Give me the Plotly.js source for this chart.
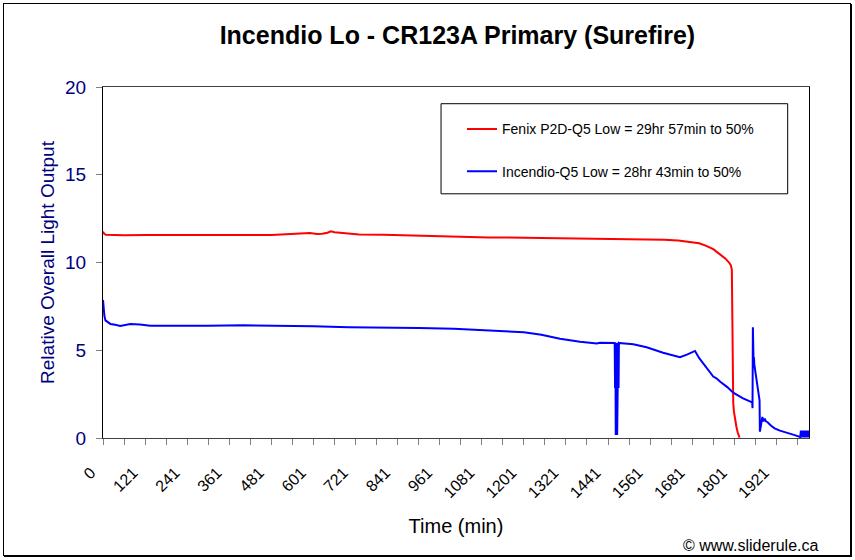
<!DOCTYPE html>
<html>
<head>
<meta charset="utf-8">
<script src="https://cdn.plot.ly/plotly-3.0.1.min.js"></script>
<style>
  body { margin: 0; background: #fff; }
  #wrap { position: relative; width: 855px; height: 560px; }
  #chart { width: 855px; height: 560px; }
  #frame {
    position: absolute; left: 3px; top: 3px; width: 846px; height: 551px;
    border: 1px solid #000; box-shadow: 1px 1px 0 #000; pointer-events: none;
  }
</style>
</head>
<body>
<div id="wrap">
  <div id="chart"></div>
  <div id="frame"></div>
</div>
<script>
// Fenix P2D-Q5 (red), time in minutes
const fenixTime = [0, 3, 8, 20, 60, 120, 200, 300, 400, 480, 520, 545, 570, 590, 610, 625, 640, 650, 660, 675,
  690, 705, 730, 800, 900, 1000, 1100, 1200, 1300, 1400, 1500, 1560, 1600, 1640, 1670, 1700, 1720, 1740,
  1760, 1775, 1785, 1790, 1793, 1794, 1795, 1796, 1797, 1799, 1802, 1806, 1810, 1815];
const fenixOutput = [11.76, 11.65, 11.58, 11.57, 11.55, 11.56, 11.55, 11.56, 11.56, 11.57, 11.6, 11.66, 11.64,
  11.68, 11.63, 11.64, 11.7, 11.78, 11.72, 11.7, 11.64, 11.62, 11.6, 11.58, 11.52, 11.47, 11.43, 11.41, 11.39,
  11.38, 11.36, 11.33, 11.3, 11.25, 11.18, 11.1, 10.95, 10.76, 10.45, 10.22, 10.0, 9.85, 9.6, 7.5, 5.0, 3.0,
  2.0, 1.5, 1.05, 0.64, 0.3, 0.02];

// Incendio-Q5 (blue)
const incendioTime = [0, 2, 4, 7, 11, 21, 35, 49, 78, 105, 135, 200, 300, 400, 500, 600, 700, 800, 900, 1000,
  1100, 1200, 1250, 1303, 1360, 1397, 1408, 1417, 1440, 1459,
  1460, 1461, 1462, 1463, 1464, 1465, 1466, 1467, 1468, 1469, 1470, 1471, 1472,
  1512, 1550, 1597, 1645, 1665, 1688, 1700, 1720, 1740, 1749, 1760, 1780, 1797, 1825, 1851, 1852, 1853,
  1855, 1856, 1857, 1870, 1872, 1873, 1876, 1880, 1883, 1887, 1890, 1895, 1905, 1915, 1930, 1950, 1970,
  1985, 1988, 1990, 1991, 1993, 1994, 1996, 1997, 1999, 2000, 2002, 2003, 2005, 2006, 2008, 2009, 2011, 2012];
const incendioOutput = [7.87, 7.3, 6.95, 6.7, 6.63, 6.5, 6.45, 6.39, 6.5, 6.47, 6.39, 6.38, 6.4, 6.42, 6.41,
  6.37, 6.31, 6.3, 6.27, 6.22, 6.14, 6.03, 5.88, 5.66, 5.49, 5.4, 5.39, 5.43, 5.43, 5.42,
  2.85, 5.42, 0.17, 5.42, 0.17, 5.42, 0.17, 5.42, 0.17, 5.42, 2.85, 5.42, 5.41,
  5.34, 5.17, 4.86, 4.6, 4.75, 4.96, 4.55, 4.0, 3.5, 3.4, 3.2, 2.9, 2.58, 2.26, 2.03, 1.7, 6.31,
  4.3, 4.6, 4.2, 2.2, 2.15, 0.36, 0.85, 1.2, 0.95, 1.1, 0.95, 0.9, 0.7, 0.55, 0.42, 0.28, 0.18,
  0.08, 0.05, 0.42, 0.03, 0.42, 0.03, 0.42, 0.03, 0.42, 0.03, 0.42, 0.03, 0.42, 0.03, 0.42, 0.03, 0.42, 0.03];

const seriesNames = ['Fenix P2D-Q5 Low = 29hr 57min to 50%', 'Incendio-Q5 Low = 28hr 43min to 50%'];

// x axis: a tick every 60 min, a label on every other one
const xTickVals = [0, 60, 120, 180, 240, 300, 360, 420, 480, 540, 600, 660, 720, 780, 840, 900, 960, 1020,
  1080, 1140, 1200, 1260, 1320, 1380, 1440, 1500, 1560, 1620, 1680, 1740, 1800, 1860, 1920, 1980];
const xTickText = ['0', '', '121', '', '241', '', '361', '', '481', '', '601', '', '721', '', '841', '',
  '961', '', '1081', '', '1201', '', '1321', '', '1441', '', '1561', '', '1681', '', '1801', '', '1921', ''];

const FONT = 'Liberation Sans, Arial, sans-serif';

const traces = [
  {
    x: fenixTime, y: fenixOutput, name: seriesNames[0], legendgroup: 'a',
    type: 'scatter', mode: 'lines', line: { color: '#ff0000', width: 2 },
  },
  {
    x: incendioTime, y: incendioOutput, name: seriesNames[1], legendgroup: 'b',
    type: 'scatter', mode: 'lines', line: { color: '#0000ff', width: 2 },
  },
];

const layout = {
  width: 855,
  height: 560,
  margin: { l: 103, r: 46, t: 87, b: 122 },
  paper_bgcolor: '#fff',
  plot_bgcolor: '#fff',
  font: { family: FONT, color: '#000' },
  title: {
    text: 'Incendio Lo - CR123A Primary (Surefire)',
    font: { size: 25, weight: 'bold', color: '#000' },
    x: 0.535, xanchor: 'center',
    yref: 'container', y: 0.937, yanchor: 'middle',
  },
  xaxis: {
    range: [0, 2013],
    tickmode: 'array', tickvals: xTickVals, ticktext: xTickText,
    tickangle: -45,
    tickfont: { size: 16, color: '#000' },
    ticks: 'outside', ticklen: 6, tickcolor: '#808080',
    ticklabelstandoff: 12, ticklabelshift: -12,
    showline: true, linecolor: '#404040', linewidth: 1, mirror: true,
    showgrid: false, zeroline: false,
    title: { text: 'Time (min)', font: { size: 20, color: '#000' }, standoff: 18 },
  },
  yaxis: {
    range: [0, 20], dtick: 5,
    tickfont: { size: 19, color: '#000080' },
    ticks: 'outside', ticklen: 6, tickcolor: '#808080',
    ticklabelstandoff: 6,
    showline: true, linecolor: '#000', linewidth: 1, mirror: true,
    showgrid: false, zeroline: false,
    title: { text: 'Relative Overall Light Output', font: { size: 19, color: '#000080' }, standoff: 5 },
  },
  showlegend: true,
  legend: {
    x: 0.5085, y: 0.925, xanchor: 'left', yanchor: 'top',
    bgcolor: 'rgba(0,0,0,0)', borderwidth: 0,
    font: { size: 14, color: '#000' },
    tracegroupgap: 21,
  },
  shapes: [
    {
      type: 'rect', xref: 'paper', yref: 'paper',
      x0: 0.4788, x1: 0.9698, y0: 0.6957, y1: 0.9524,
      line: { color: '#000', width: 1 }, fillcolor: '#fff', layer: 'below',
    },
  ],
  annotations: [
    {
      text: '© www.sliderule.ca', xref: 'paper', yref: 'paper',
      x: 1.0151, y: -0.305, xanchor: 'right', yanchor: 'middle',
      showarrow: false, font: { size: 16, color: '#000' },
    },
  ],
};

Plotly.newPlot('chart', traces, layout, { displayModeBar: false, staticPlot: true });
</script>
</body>
</html>
